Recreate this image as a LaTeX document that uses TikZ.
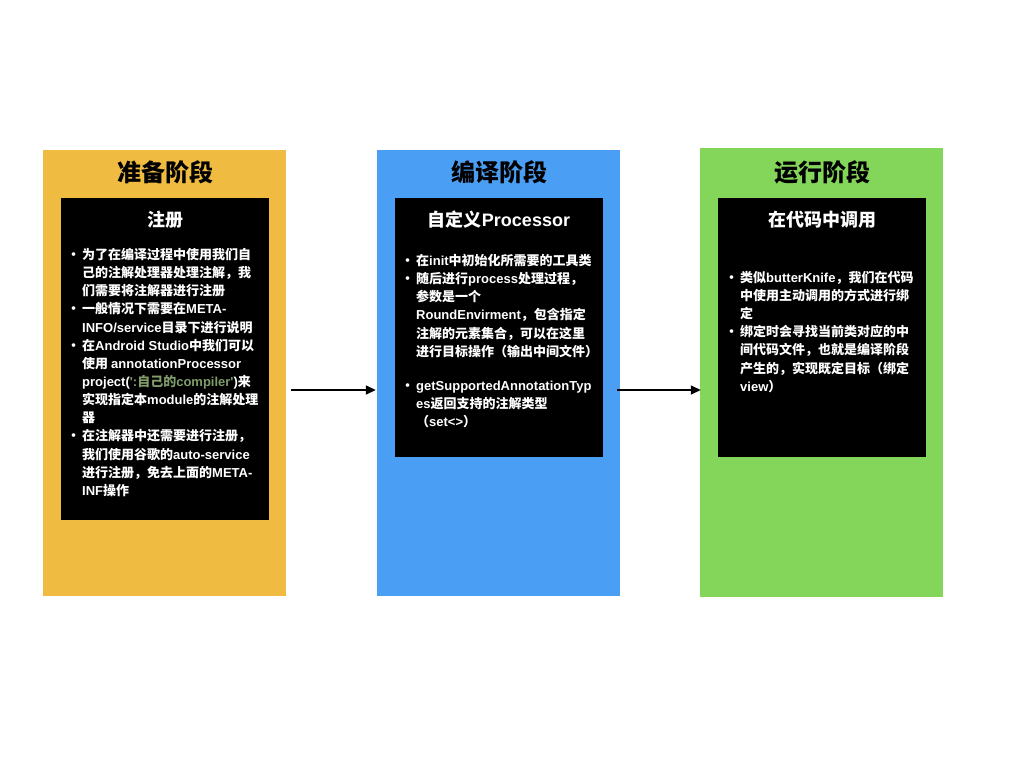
\documentclass[tikz,border=0pt]{standalone}
\usepackage{fontspec}
\setmainfont{Noto Sans CJK SC}
\newfontfamily\latf{Liberation Sans}
\usetikzlibrary{arrows.meta}
\definecolor{cOr}{HTML}{EFBB40}
\definecolor{cBl}{HTML}{4A9FF5}
\definecolor{cGr}{HTML}{83D65A}
\definecolor{cCode}{HTML}{7F9C6B}
\newcommand\bl{\makebox[13pt][l]{\hspace*{-2pt}•}}
\newcommand\ind{\hspace*{13pt}}
\newcommand\lt[1]{{\latf\bfseries #1}}
\begin{document}
\begin{tikzpicture}[x=1pt,y=-1pt,
 panel/.style={draw=none, minimum width=243pt, minimum height=446pt, inner sep=0},
 innerbox/.style={fill=black, minimum width=208pt, inner sep=0},
 ptitle/.style={font=\fontsize{24}{28}\selectfont\bfseries, text=black},
 ititle/.style={font=\fontsize{18}{20}\selectfont\bfseries, text=white},
 body/.style={font=\fontsize{13}{18.15}\selectfont\bfseries, text=white, align=left, anchor=north west, inner sep=0},
 arr/.style={line width=1.5pt, -{Triangle[length=10pt,width=9pt]}}]
\fill[white] (0,0) rectangle (1024,768);
\useasboundingbox (0,0) rectangle (1024,768);
% panels
\node[panel, fill=cOr] (p1) at (164.5,373) {};
\node[panel, fill=cBl] (p2) at (498.5,373) {};
\node[panel, fill=cGr, minimum height=449pt] (p3) at (821.5,372.5) {};
\node[ptitle] (t1) at (165,172) {准备阶段};
\node[ptitle] (t2) at (499,172) {编译阶段};
\node[ptitle] (t3) at (822,172) {运行阶段};
% inner boxes
\node[innerbox, minimum height=322pt] (b1) at (165,359) {};
\node[innerbox, minimum height=259pt] (b2) at (499,327.5) {};
\node[innerbox, minimum height=259pt] (b3) at (822,327.5) {};
\node[ititle] (s1) at (165,220) {注册};
\node[ititle] (s2) at (499,220) {自定义\lt{Processor}};
\node[ititle] (s3) at (822,220) {在代码中调用};
% bodies
\node[body] (x1) at (69,248) {%
\bl 为了在编译过程中使用我们自\\
\ind 己的注解处理器处理注解，我\\
\ind 们需要将注解器进行注册\\
\bl 一般情况下需要在\lt{META-}\\
\ind \lt{INFO/service}目录下进行说明\\
\bl 在\lt{Android Studio}中我们可以\\
\ind 使用 \lt{annotationProcessor}\\
\ind \lt{project(}{\color{cCode}\lt{\textquotesingle:}自己的\lt{compiler\textquotesingle}}\lt{)}来\\
\ind 实现指定本\lt{module}的注解处理\\
\ind 器\\
\bl 在注解器中还需要进行注册，\\
\ind 我们使用谷歌的\lt{auto-service}\\
\ind 进行注册，免去上面的\lt{META-}\\
\ind \lt{INF}操作};
\node[body] (x2) at (403,254) {%
\bl 在\lt{init}中初始化所需要的工具类\\
\bl 随后进行\lt{process}处理过程，\\
\ind 参数是一个\\
\ind \lt{RoundEnvirment}，包含指定\\
\ind 注解的元素集合，可以在这里\\
\ind 进行目标操作（输出中间文件）\\[16pt]
\bl \lt{getSupportedAnnotationTyp}\\
\ind \lt{es}返回支持的注解类型\\
\ind （\lt{set<>}）};
\node[body] (x3) at (727,271) {%
\bl 类似\lt{butterKnife}，我们在代码\\
\ind 中使用主动调用的方式进行绑\\
\ind 定\\
\bl 绑定时会寻找当前类对应的中\\
\ind 间代码文件，也就是编译阶段\\
\ind 产生的，实现既定目标（绑定\\
\ind \lt{view}）};
% arrows
\draw[arr] ([xshift=5pt,yshift=-17pt]p1.east) -- ([xshift=-1pt,yshift=-17pt]p2.west);
\draw[arr] ([xshift=-3pt,yshift=-17pt]p2.east) -- ([xshift=1pt,yshift=-17.5pt]p3.west);
\end{tikzpicture}
\end{document}
